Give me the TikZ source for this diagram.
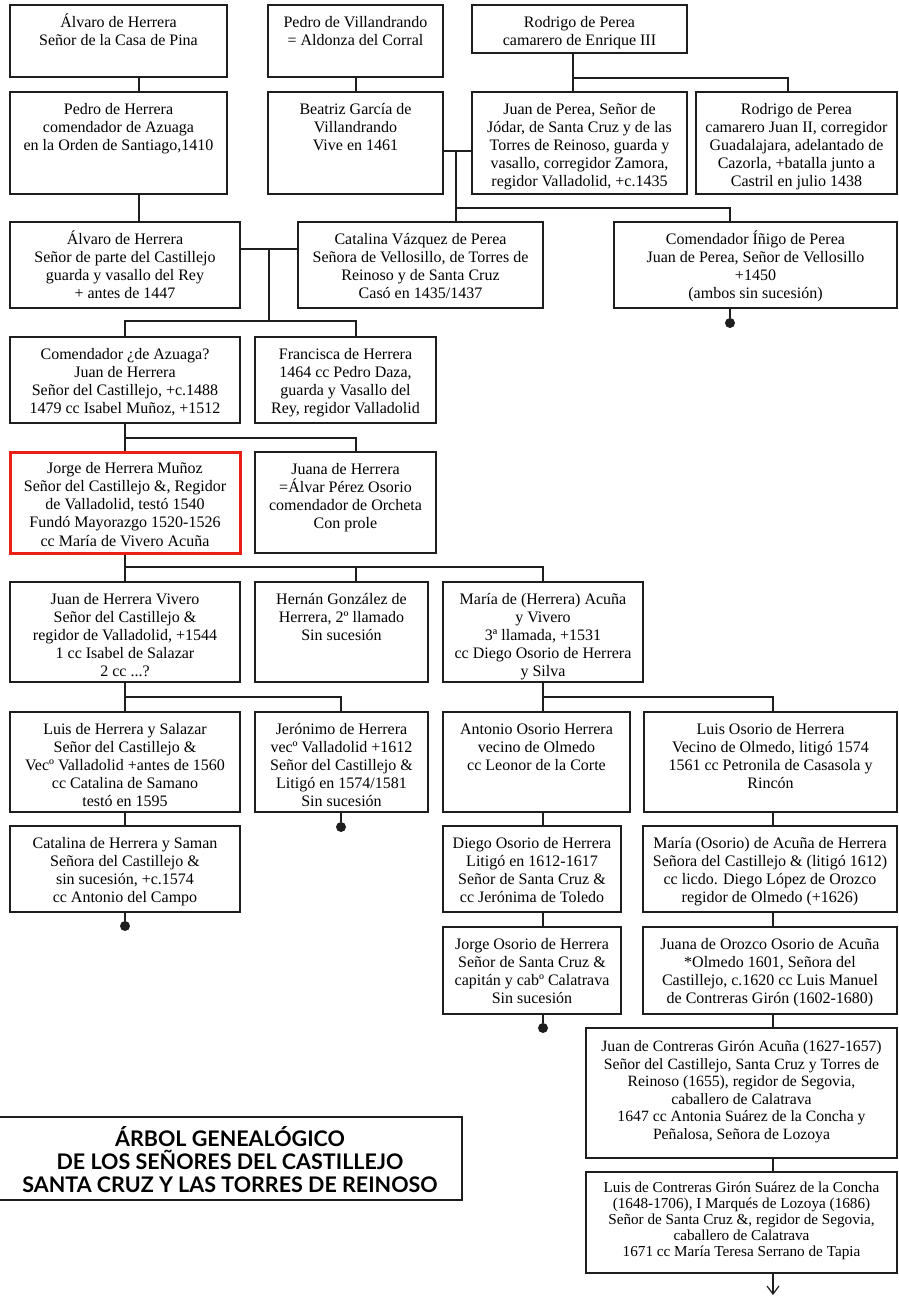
\documentclass[tikz,border=0pt]{standalone}
\usepackage{fontspec}
\setmainfont{Liberation Serif}
\newfontfamily\titlefont{Lato}
\usetikzlibrary{fit,arrows.meta}
\definecolor{boxred}{RGB}{232,32,22}
\definecolor{ink}{RGB}{30,30,30}
\tikzset{
  boxst/.style={draw=ink, line width=1.2pt, inner sep=0pt, rectangle},
  redst/.style={draw=boxred, line width=3pt},
  txtst/.style={align=center, inner sep=0pt, font=\fontsize{16}{18.2}\selectfont},
  link/.style={draw=ink, line width=1.2pt},
  dotst/.style={circle, fill=ink, inner sep=0pt, minimum size=10pt},
}
\newcommand\persona[7][]{%
  \node[boxst,fit={(#3,#4)(#5,#6)},#1] (#2) {};
  \node[txtst,anchor=north] (#2-t) at ([yshift=-7.5pt]#2.north) {\rule{0pt}{15pt}#7};
}
\begin{document}
\begin{tikzpicture}[x=1pt,y=-1pt]
\useasboundingbox (0,0) rectangle (899,1296);
% row 1
\persona{a1}{10}{5}{227}{77}{Álvaro de Herrera\\Señor de la Casa de Pina}
\persona{b1}{268}{5}{443}{77}{Pedro de Villandrando\\= Aldonza del Corral}
\persona{c1}{472}{5}{687}{53}{Rodrigo de Perea\\camarero de Enrique III}
% row 2
\persona{a2}{10}{92}{227}{194}{Pedro de Herrera\\comendador de Azuaga\\en la Orden de Santiago,1410}
\persona{b2}{268}{92}{443}{194}{Beatriz García de\\Villandrando\\Vive en 1461}
\persona{c2}{472}{92}{687}{194}{Juan de Perea, Señor de\\Jódar, de Santa Cruz y de las\\Torres de Reinoso, guarda y\\vasallo, corregidor Zamora,\\regidor Valladolid, +c.1435}
\persona{d2}{696}{92}{897}{194}{Rodrigo de Perea\\camarero Juan II, corregidor\\Guadalajara, adelantado de\\Cazorla, +batalla junto a\\Castril en julio 1438}
% row 3
\persona{a3}{10}{222}{240}{308}{Álvaro de Herrera\\Señor de parte del Castillejo\\guarda y vasallo del Rey\\+ antes de 1447}
\persona{b3}{298}{222}{543}{308}{Catalina Vázquez de Perea\\Señora de Vellosillo, de Torres de\\Reinoso y de Santa Cruz\\Casó en 1435/1437}
\persona{d3}{614}{222}{897}{308}{Comendador Íñigo de Perea\\Juan de Perea, Señor de Vellosillo\\+1450\\(ambos sin sucesión)}
% row 4
\persona{a4}{10}{337}{240}{423}{Comendador ¿de Azuaga?\\Juan de Herrera\\Señor del Castillejo, +c.1488\\1479 cc Isabel Muñoz, +1512}
\persona{b4}{255}{337}{436}{423}{Francisca de Herrera\\1464 cc Pedro Daza,\\guarda y Vasallo del\\Rey, regidor Valladolid}
% row 5
\persona[redst]{a5}{10}{452}{240}{553}{Jorge de Herrera Muñoz\\Señor del Castillejo \&, Regidor\\de Valladolid, testó 1540\\Fundó Mayorazgo 1520-1526\\cc María de Vivero Acuña}
\persona{b5}{255}{452}{436}{553}{Juana de Herrera\\=Álvar Pérez Osorio\\comendador de Orcheta\\Con prole}
% row 6
\persona{a6}{10}{582}{240}{682}{Juan de Herrera Vivero\\Señor del Castillejo \&\\regidor de Valladolid, +1544\\1 cc Isabel de Salazar\\2 cc ...?}
\persona{b6}{255}{582}{428}{682}{Hernán González de\\Herrera, 2º llamado\\Sin sucesión}
\persona{c6}{443}{582}{643}{682}{María de (Herrera) Acuña\\y Vivero\\3ª llamada, +1531\\cc Diego Osorio de Herrera\\y Silva}
% row 7
\persona{a7}{10}{712}{240}{812}{Luis de Herrera y Salazar\\Señor del Castillejo \&\\Vecº Valladolid +antes de 1560\\cc Catalina de Samano\\testó en 1595}
\persona{b7}{255}{712}{428}{812}{Jerónimo de Herrera\\vecº Valladolid +1612\\Señor del Castillejo \&\\Litigó en 1574/1581\\Sin sucesión}
\persona{c7}{443}{712}{630}{812}{Antonio Osorio Herrera\\vecino de Olmedo\\cc Leonor de la Corte}
\persona{d7}{644}{712}{897}{812}{Luis Osorio de Herrera\\Vecino de Olmedo, litigó 1574\\1561 cc Petronila de Casasola y\\Rincón}
% row 8
\persona{a8}{10}{826}{240}{912}{Catalina de Herrera y Saman\\Señora del Castillejo \&\\sin sucesión, +c.1574\\cc Antonio del Campo}
\persona{c8}{443}{826}{621}{912}{Diego Osorio de Herrera\\Litigó en 1612-1617\\Señor de Santa Cruz \&\\cc Jerónima de Toledo}
\persona{d8}{643}{826}{897}{912}{María (Osorio) de Acuña de Herrera\\Señora del Castillejo \& (litigó 1612)\\cc licdo. Diego López de Orozco\\regidor de Olmedo (+1626)}
% row 9
\persona{c9}{443}{927}{621}{1014}{Jorge Osorio de Herrera\\Señor de Santa Cruz \&\\capitán y cabº Calatrava\\Sin sucesión}
\persona{d9}{643}{927}{897}{1014}{Juana de Orozco Osorio de Acuña\\*Olmedo 1601, Señora del\\Castillejo, c.1620 cc Luis Manuel\\de Contreras Girón (1602-1680)}
% rows 10-11
\node[boxst,fit={(586,1028)(897,1158)}] (d10) {};
\node[txtst,font=\fontsize{15.7}{17.5}\selectfont,anchor=north] (d10-t) at ([yshift=-9pt]d10.north)
  {\rule{0pt}{15pt}Juan de Contreras Girón Acuña (1627-1657)\\Señor del Castillejo, Santa Cruz y Torres de\\Reinoso (1655), regidor de Segovia,\\caballero de Calatrava\\1647 cc Antonia Suárez de la Concha y\\Peñalosa, Señora de Lozoya};
\node[boxst,fit={(586,1172)(897,1273)}] (d11) {};
\node[txtst,font=\fontsize{15.2}{16}\selectfont,anchor=north] (d11-t) at ([yshift=-6pt]d11.north)
  {\rule{0pt}{15pt}Luis de Contreras Girón Suárez de la Concha\\(1648-1706), I Marqués de Lozoya (1686)\\Señor de Santa Cruz \&, regidor de Segovia,\\caballero de Calatrava\\1671 cc María Teresa Serrano de Tapia};
% title
\node[boxst,fit={(-3,1117)(462,1200)}] (titlebox) {};
\node[font=\titlefont\bfseries\fontsize{21.5}{23}\selectfont, align=center, inner sep=0pt] (title) at (230,1160)
  {ÁRBOL GENEALÓGICO\\DE LOS SEÑORES DEL CASTILLEJO\\SANTA CRUZ Y LAS TORRES DE REINOSO};
% connectors
\coordinate (ka) at (139,0);
\draw[link] (a1.south -| ka) -- (a2.north -| ka);
\draw[link] (a2.south -| ka) -- (a3.north -| ka);
\coordinate (kb) at (356,0);
\draw[link] (b1.south -| kb) -- (b2.north -| kb);
\coordinate (kc) at (573,78);
\coordinate (kd) at (788,0);
\draw[link] (c1.south -| kc) -- (c2.north -| kc);
\draw[link] (kc) -- (kc -| kd) -- (d2.north -| kd);
\coordinate (m2) at (456,151);
\draw[link] (b2.east |- m2) -- (c2.west |- m2);
\draw[link] (m2) -- (b3.north -| m2);
\coordinate (k3) at (456,208);
\coordinate (ke) at (730,0);
\draw[link] (k3) -- (k3 -| ke) -- (d3.north -| ke);
\node[dotst] (dd3) at (730,323) {};
\draw[link] (d3.south -| dd3) -- (dd3);
\coordinate (m3) at (269,249);
\draw[link] (a3.east |- m3) -- (b3.west |- m3);
\coordinate (k4) at (269,321);
\coordinate (kl) at (125,0);
\draw[link] (m3) -- (k4);
\draw[link] (a4.north -| kl) -- (kl |- k4) -- (kb |- k4) -- (b4.north -| kb);
\coordinate (k5) at (125,438);
\draw[link] (a4.south -| kl) -- (a5.north -| kl);
\draw[link] (k5) -- (kb |- k5) -- (b5.north -| kb);
\coordinate (k6) at (125,567);
\coordinate (kf) at (543,0);
\draw[link] (a5.south -| kl) -- (a6.north -| kl);
\draw[link] (k6) -- (kf |- k6) -- (c6.north -| kf);
\draw[link] (kb |- k6) -- (b6.north -| kb);
\coordinate (k7) at (125,697);
\coordinate (kg) at (341,0);
\draw[link] (a6.south -| kl) -- (a7.north -| kl);
\draw[link] (k7) -- (kg |- k7) -- (b7.north -| kg);
\node[dotst] (db7) at (341,827) {};
\draw[link] (b7.south -| db7) -- (db7);
\coordinate (kh) at (773,0);
\draw[link] (c6.south -| kf) -- (c7.north -| kf);
\draw[link] (kf |- k7) -- (kh |- k7) -- (d7.north -| kh);
\draw[link] (a7.south -| kl) -- (a8.north -| kl);
\node[dotst] (da8) at (125,926) {};
\draw[link] (a8.south -| da8) -- (da8);
\draw[link] (c7.south -| kf) -- (c8.north -| kf);
\draw[link] (c8.south -| kf) -- (c9.north -| kf);
\node[dotst] (dc9) at (543,1028) {};
\draw[link] (c9.south -| dc9) -- (dc9);
\draw[link] (d7.south -| kh) -- (d8.north -| kh);
\draw[link] (d8.south -| kh) -- (d9.north -| kh);
\draw[link] (d9.south -| kh) -- (d10.north -| kh);
\draw[link] (d10.south -| kh) -- (d11.north -| kh);
\coordinate (tail) at (773,1295);
\draw[link,-{Straight Barb[length=8pt,width=12pt]}] (d11.south -| tail) -- (tail);
\end{tikzpicture}
\end{document}
